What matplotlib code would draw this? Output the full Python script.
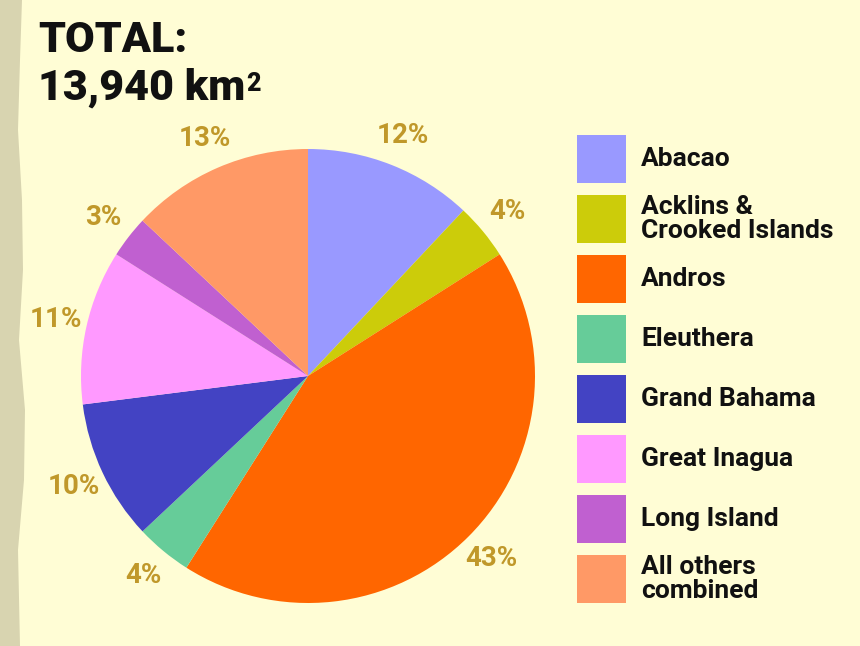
import matplotlib.pyplot as plt
from matplotlib.patches import Rectangle

# island areas, share of total (%)
islands = ['Abacao', 'Acklins &\nCrooked Islands', 'Andros', 'Eleuthera',
           'Grand Bahama', 'Great Inagua', 'Long Island', 'All others\ncombined']
shares = [12, 4, 43, 4, 10, 11, 3, 13]
colors = ['#9999ff', '#cccc0a', '#ff6600', '#66cc99',
          '#4343c3', '#ff99ff', '#c060d0', '#ff9966']

# decorative wavy strip on the left edge (y, width)
wave_y = [0, 60, 130, 200, 270, 340, 410, 480, 550, 646]
wave_w = [22, 20, 18, 22, 23, 19, 25, 24, 18, 20]

bg = '#fffdd5'
pct_color = '#c0982a'
plt.rcParams['font.family'] = ['Roboto', 'DejaVu Sans']
plt.rcParams['font.weight'] = 'bold'

fig = plt.figure(figsize=(8.6, 6.46), dpi=100)
fig.patch.set_facecolor(bg)
ax = fig.add_axes([0, 0, 1, 1])
ax.set_xlim(0, 860)
ax.set_ylim(0, 646)
ax.set_aspect('equal')
ax.axis('off')

# left strip (pixel coords, y from top)
ax.fill_betweenx([646 - y for y in wave_y], 0, wave_w, color='#d8d4b0', lw=0)

cx, cy, r = 308, 646 - 376, 227
ax.pie(shares, colors=colors, startangle=90, counterclock=False,
       center=(cx, cy), radius=r, autopct=lambda p: f'{p:.0f}%',
       pctdistance=1.14, wedgeprops=dict(linewidth=0),
       textprops=dict(color=pct_color, fontsize=20, fontweight='bold'))
ax.set_xlim(0, 860)
ax.set_ylim(0, 646)

# title
ax.text(38, 646 - 52, 'TOTAL:', fontsize=31, fontweight='heavy', color='#111111',
        va='baseline', ha='left')
km = ax.text(38, 646 - 100, '13,940 km', fontsize=31, fontweight='heavy',
             color='#111111', va='baseline', ha='left')
ax.annotate('2', xy=(1, 0.9), xycoords=km, xytext=(0.5, 0), textcoords='offset points',
            fontsize=18, fontweight='heavy', color='#111111', va='top', ha='left')

# legend
for i, (name, c) in enumerate(zip(islands, colors)):
    top = 135 + 60 * i
    ax.add_patch(Rectangle((577, 646 - top - 48), 49, 48, color=c, lw=0))
    ax.text(641, 646 - top - 24, name, fontsize=19, fontweight='bold',
            color='#111111', va='center', ha='left', linespacing=0.97)

fig.savefig('out.png', dpi=100, facecolor=bg)
